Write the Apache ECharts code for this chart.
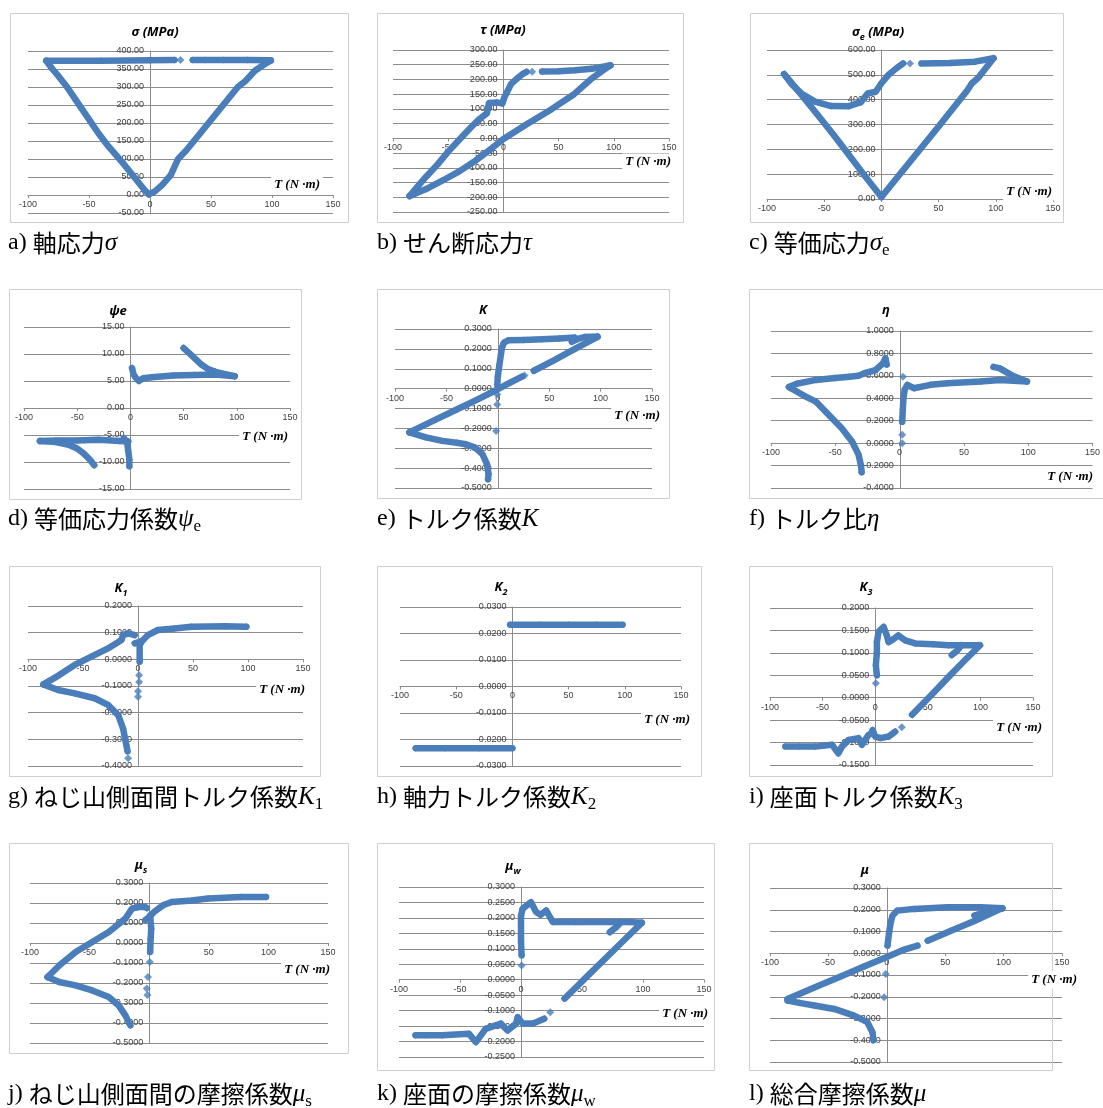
<!DOCTYPE html>
<html>
<head>
<meta charset="utf-8">
<script src="https://cdn.jsdelivr.net/npm/echarts@6.0.0/dist/echarts.min.js"></script>
<style>
html, body { margin: 0; padding: 0; background: #fff; }
#main { width: 1103px; height: 1108px; }
</style>
</head>
<body>
<div id="main"></div>
<script>
// shared x ticks (T, N·m)
var xTicks = [-100, -50, 0, 50, 100, 150];

// a) sigma
var sigmaRise = [[-1,2],[4,10],[10,28],[17,55],[23,100],[30,125],[36,150],[42,175],[48,200],[54,225],[60,250],[66,275],[72,300],[78,316],[86,345],[95,366],[99,373]];
var sigmaTopRight = [[99,374],[80,375],[60,375],[45,375],[35,375]];
var sigmaTopLeft = [[20,375],[0,374],[-40,373],[-85,373]];
var sigmaFall = [[-85,373],[-80,350],[-75,330],[-68,300],[-61,265],[-50,210],[-42,170],[-34,135],[-23,92],[-12,46],[-4,12],[-1,2]];
var sigmaDots = [[25,375]];

// b) tau
var tauRise = [[-85,-196],[-70,-172],[-55,-143],[-40,-112],[-25,-75],[-12,-38],[0,-2],[20,45],[44,100],[64,150],[79,200],[88,225],[97,248]];
var tauReturn = [[-85,-196],[-78,-165],[-70,-130],[-60,-90],[-50,-45],[-40,-5],[-30,35],[-22,65],[-15,85],[-13,120],[-6,122],[-1,118],[1,140],[3,155],[7,185],[12,202],[18,220],[21,226]];
var tauTop = [[35,227],[50,228],[65,231],[80,236],[97,248]];
var tauDots = [[26,226]];

// c) sigma_e
var seRise = [[0,8],[25,150],[50,292],[75,437],[79,465],[85,490],[98,567]];
var seFall = [[-85,503],[-70,420],[-56,340],[-42,260],[-28,175],[-14,90],[0,8]];
var seArc = [[-85,503],[-78,460],[-70,425],[-58,392],[-44,374],[-29,373],[-18,390],[-12,425],[-5,432],[0,466],[6,499],[13,526],[19,546]];
var seTop = [[35,546],[60,548],[82,553],[98,567]];
var seDots = [[25,546]];

// d) psi_e
var psiPosFlat = [[1.5,7.4],[3,6.2],[5,5.6],[8,5.0],[12,5.5],[20,5.7],[40,6.0],[60,6.1],[80,6.2],[98,5.9]];
var psiPosCurve = [[50,11.1],[55,10.2],[61,9.1],[67,8.0],[73,7.2],[80,6.7],[88,6.3],[98,5.9]];
var psiNegFlat = [[-85,-6.1],[-70,-6.0],[-50,-6.0],[-30,-5.9],[-10,-6.1],[-2,-6.2]];
var psiNegCurve = [[-85,-6.1],[-70,-6.3],[-58,-6.8],[-50,-7.5],[-44,-8.4],[-38,-9.6],[-34,-10.6]];
var psiNegDrop = [[-6,-5.6],[-3,-6.5],[-2,-8],[-1,-9.5],[-1,-10.8]];

// e) K
var kDiag = [[-86,-0.22],[-60,-0.155],[-40,-0.105],[-20,-0.055],[0,-0.003],[12,0.03],[24,0.062]];
var kDiag2 = [[35,0.09],[55,0.143],[75,0.2],[97,0.26]];
var kTop = [[97,0.262],[85,0.26],[78,0.25],[72,0.235],[75,0.257],[60,0.252],[43,0.248],[25,0.245],[10,0.243],[6,0.232],[4,0.206],[3,0.17],[1.6,0.122],[0,0.06],[-0.5,0.02]];
var kLow = [[-86,-0.22],[-70,-0.245],[-54,-0.263],[-40,-0.272],[-31,-0.28],[-22,-0.297],[-15,-0.33],[-10.5,-0.38],[-9,-0.43],[-9.5,-0.456]];
var kDots = [[26,0.066],[-0.5,-0.03],[-0.6,-0.08],[-1.6,-0.213]];

// f) eta
var etaUp = [[-86,0.5],[-80,0.53],[-65,0.564],[-50,0.58],[-39,0.593],[-32,0.6],[-27,0.625],[-19,0.65],[-13,0.71],[-11,0.757],[-10,0.7]];
var etaDown = [[-86,0.5],[-80,0.46],[-73,0.415],[-65,0.37],[-55,0.25],[-45,0.133],[-37,0.015],[-32,-0.1],[-30,-0.2],[-29.5,-0.26]];
var etaRight = [[2,0.19],[2.5,0.3],[3,0.4],[4,0.48],[6,0.52],[11,0.49],[24,0.52],[37,0.534],[63,0.55],[78,0.564],[99,0.55]];
var etaTail = [[73,0.68],[78,0.667],[88,0.6],[99,0.55]];
var etaDots = [[2.6,0.593],[2,0.075],[2,0.0]];

// g) K1
var k1Up = [[-86,-0.094],[-72,-0.06],[-57.6,-0.021],[-42.4,0.01],[-27.3,0.041],[-15,0.0725],[-13.6,0.091],[-9,0.0975],[-3,0.091]];
var k1Down = [[-86,-0.094],[-72.7,-0.115],[-57.6,-0.1275],[-39.4,-0.146],[-27.3,-0.171],[-18,-0.209],[-13.6,-0.259],[-10.6,-0.321],[-9.5,-0.345]];
var k1Right = [[1.5,-0.009],[1.5,0.054],[4,0.07],[9,0.091],[18,0.11],[33,0.116],[48.5,0.1225],[79,0.124],[98.5,0.1225]];
var k1Hook = [[-3,0.06],[1.5,0.066]];
var k1Dots = [[-9,-0.371],[1,-0.06],[1,-0.085],[0,-0.12],[0,-0.14]];

// h) K2
var k2Pos = [[-2,0.0233],[25,0.0233],[50,0.0233],[75,0.0233],[98,0.0233]];
var k2Neg = [[-86,-0.0233],[-60,-0.0233],[-30,-0.0233],[0,-0.0233]];

// i) K3
var k3Top = [[1.6,0.05],[0.6,0.0725],[1.6,0.1],[1.6,0.124],[3.2,0.147],[8,0.158],[11,0.139],[12.7,0.124],[17,0.13],[22,0.139],[28.5,0.128],[38,0.121],[55,0.119],[69.6,0.117],[82,0.117],[98,0.117]];
var k3Tail = [[72.8,0.095],[78,0.105],[82,0.117]];
var k3Diag = [[99.7,0.117],[85,0.083],[70,0.047],[55,0.01],[45,-0.014],[35,-0.038]];
var k3Low = [[19,-0.0755],[12.7,-0.0866],[5,-0.09],[0,-0.0866],[-2.5,-0.072],[-3.2,-0.079],[-6.3,-0.083],[-12.7,-0.105],[-15.8,-0.09],[-25.3,-0.094],[-31.6,-0.109],[-35,-0.124],[-41,-0.105],[-57,-0.109],[-72.8,-0.109],[-85.4,-0.109]];
var k3Dots = [[0.6,0.032],[25.3,-0.066]];

// j) mu_s
var musUp = [[-85.3,-0.17],[-75,-0.11],[-61.7,-0.045],[-47.8,0.005],[-33.9,0.055],[-20,0.122],[-14.4,0.172],[-8.9,0.18],[-3.3,0.18],[-2,0.175]];
var musDown = [[-85.3,-0.17],[-75.6,-0.195],[-61.7,-0.212],[-47.8,-0.237],[-33.9,-0.27],[-25.6,-0.312],[-20,-0.362],[-15.8,-0.412]];
var musRight = [[-3.3,0.115],[0,0.13],[4,0.155],[7.8,0.172],[12,0.19],[18.9,0.205],[35.6,0.213],[49.4,0.222],[77,0.23],[98,0.23]];
var musVert = [[0.8,0.138],[1.7,0.072],[1.2,0.02],[0.8,-0.045]];
var musDots = [[0.5,-0.095],[-1,-0.17],[-2,-0.228],[-1.5,-0.26]];

// k) mu_w
var muwTop = [[0.5,0.079],[0,0.122],[0,0.208],[1.4,0.23],[8.2,0.251],[12.4,0.219],[16,0.21],[20.6,0.224],[26,0.187],[45,0.187],[72.8,0.187],[89,0.187],[99,0.184]];
var muwTail = [[72.8,0.154],[78,0.17],[82,0.187]];
var muwDiag = [[99,0.184],[85,0.13],[70,0.072],[55,0.014],[45,-0.025],[35.7,-0.061]];
var muwLow = [[19,-0.126],[9.6,-0.142],[1.4,-0.142],[-2.7,-0.121],[-4,-0.142],[-11,-0.164],[-16.5,-0.142],[-29,-0.159],[-37,-0.202],[-42.6,-0.175],[-64.6,-0.18],[-78,-0.18],[-86.5,-0.18]];
var muwDots = [[0.5,0.046],[24,-0.105]];

// l) mu
var muDiag = [[-85,-0.21],[-60,-0.153],[-40,-0.108],[-20,-0.062],[0,-0.017],[15,0.017],[26.3,0.035]];
var muDiag2 = [[35,0.058],[55,0.103],[75,0.148],[98,0.205]];
var muTop = [[0.6,0.035],[2,0.097],[3.4,0.143],[4.9,0.173],[9,0.196],[23.4,0.204],[52,0.211],[80.6,0.211],[99,0.207]];
var muTail = [[75,0.173],[85,0.19],[99,0.207]];
var muLow = [[-85,-0.218],[-75,-0.228],[-62,-0.24],[-45,-0.256],[-28,-0.287],[-16.6,-0.317],[-12.3,-0.363],[-11.4,-0.4]];
var muDots = [[-0.9,-0.095],[-2.3,-0.202]];

var BLUE = '#4a7ebb';

var panels = [
  { box: [10, 13, 338, 209], grid: [28, 51, 305, 162], y: [-50, 400, 50], dec: 2,
    title: '{g|σ (MPa)}', titleAt: [155, 32], tAt: [323, 185],
    caption: '{n|a) }{j|軸応力}{v|σ}', capAt: [8, 243],
    bands: [sigmaRise, sigmaTopRight, sigmaTopLeft, sigmaFall], dots: sigmaDots },
  { box: [377, 13, 306, 209], grid: [393, 50, 276, 162], y: [-250, 300, 50], dec: 2,
    title: '{g|τ (MPa)}', titleAt: [503, 30], tAt: [674, 162],
    caption: '{n|b) }{j|せん断応力}{v|τ}', capAt: [377, 243],
    bands: [tauRise, tauReturn, tauTop], dots: tauDots },
  { box: [750, 13, 313, 209], grid: [767, 50, 286, 149], y: [0, 600, 100], dec: 2,
    title: '{g|σ}{s|e}{g| (MPa)}', titleAt: [878, 32], tAt: [1055, 192],
    caption: '{n|c) }{j|等価応力}{v|σ}{s|e}', capAt: [749, 243],
    bands: [seRise, seFall, seArc, seTop], dots: seDots },
  { box: [9, 289, 292, 210], grid: [24, 327, 266, 162], y: [-15, 15, 5], dec: 2,
    title: '{g|ψe}', titleAt: [118, 311], tAt: [291, 437],
    caption: '{n|d) }{j|等価応力係数}{v|ψ}{s|e}', capAt: [8, 519],
    bands: [psiPosFlat, psiPosCurve, psiNegFlat, psiNegCurve, psiNegDrop], dots: [] },
  { box: [377, 289, 292, 209], grid: [395, 329, 257, 159], y: [-0.5, 0.3, 0.1], dec: 4,
    title: '{g|K}', titleAt: [483, 310], tAt: [663, 416],
    caption: '{n|e) }{j|トルク係数}{v|K}', capAt: [377, 519],
    bands: [kDiag, kDiag2, kTop, kLow], dots: kDots },
  { box: [749, 289, 370, 209], grid: [771, 331, 322, 157], y: [-0.4, 1.0, 0.2], dec: 4,
    title: '{g|η}', titleAt: [886, 310], tAt: [1096, 477],
    caption: '{n|f) }{j|トルク比}{v|η}', capAt: [749, 519],
    bands: [etaUp, etaDown, etaRight, etaTail], dots: etaDots },
  { box: [9, 566, 311, 210], grid: [28, 606, 275, 160], y: [-0.4, 0.2, 0.1], dec: 4,
    title: '{g|K}{s|1}', titleAt: [121, 588], tAt: [308, 690],
    caption: '{n|g) }{j|ねじ山側面間トルク係数}{v|K}{s|1}', capAt: [8, 797],
    bands: [k1Up, k1Down, k1Right, k1Hook], dots: k1Dots },
  { box: [377, 566, 324, 210], grid: [400, 607, 281, 159], y: [-0.03, 0.03, 0.01], dec: 4,
    title: '{g|K}{s|2}', titleAt: [501, 587], tAt: [693, 720],
    caption: '{n|h) }{j|軸力トルク係数}{v|K}{s|2}', capAt: [377, 797],
    bands: [k2Pos, k2Neg], dots: [] },
  { box: [749, 566, 303, 210], grid: [770, 608, 263, 157], y: [-0.15, 0.2, 0.05], dec: 4,
    title: '{g|K}{s|3}', titleAt: [866, 587], tAt: [1045, 728],
    caption: '{n|i) }{j|座面トルク係数}{v|K}{s|3}', capAt: [749, 797],
    bands: [k3Top, k3Tail, k3Diag, k3Low], dots: k3Dots },
  { box: [9, 843, 339, 210], grid: [30, 883, 298, 160], y: [-0.5, 0.3, 0.1], dec: 4,
    title: '{g|μ}{s|s}', titleAt: [141, 865], tAt: [333, 970],
    caption: '{n|j) }{j|ねじ山側面間の摩擦係数}{v|μ}{s|s}', capAt: [8, 1094],
    bands: [musUp, musDown, musRight, musVert], dots: musDots },
  { box: [377, 843, 337, 227], grid: [399, 887, 305, 170], y: [-0.25, 0.3, 0.05], dec: 4,
    title: '{g|μ}{s|w}', titleAt: [513, 866], tAt: [711, 1014],
    caption: '{n|k) }{j|座面の摩擦係数}{v|μ}{s|w}', capAt: [377, 1094],
    bands: [muwTop, muwTail, muwDiag, muwLow], dots: muwDots },
  { box: [749, 843, 303, 227], grid: [770, 888, 292, 174], y: [-0.5, 0.3, 0.1], dec: 4,
    title: '{g|μ}', titleAt: [865, 870], tAt: [1080, 980],
    caption: '{n|l) }{j|総合摩擦係数}{v|μ}', capAt: [749, 1094],
    bands: [muDiag, muDiag2, muTop, muTail, muLow], dots: muDots }
];

var titleRich = {
  g: { fontFamily: 'Noto Sans', fontStyle: 'italic', fontWeight: 'bold', fontSize: 13, lineHeight: 20, fill: '#000' },
  s: { fontFamily: 'Noto Sans', fontStyle: 'italic', fontWeight: 'bold', fontSize: 9, lineHeight: 12, verticalAlign: 'bottom', fill: '#000' }
};
var capRich = {
  n: { fontFamily: 'Liberation Serif', fontSize: 24, lineHeight: 32, fill: '#000' },
  j: { fontFamily: 'Noto Sans CJK JP', fontSize: 24, lineHeight: 32, fill: '#000' },
  v: { fontFamily: 'Liberation Serif', fontStyle: 'italic', fontSize: 25, lineHeight: 32, fill: '#000' },
  s: { fontFamily: 'Liberation Serif', fontSize: 17, lineHeight: 19, verticalAlign: 'bottom', fill: '#000' }
};

var grids = [], xAxes = [], yAxes = [], series = [], graphics = [];
var axisGray = '#8c8c8c';
var xMin = xTicks[0], xMax = xTicks[xTicks.length - 1];

panels.forEach(function (p, i) {
  // axes cross at zero, as in the spreadsheet charts
  var yShift = p.grid[2] * (0 - xMin) / (xMax - xMin);
  var xShift = p.grid[3] * (0 - p.y[0]) / (p.y[1] - p.y[0]);
  grids.push({ left: p.grid[0], top: p.grid[1], width: p.grid[2], height: p.grid[3] });
  xAxes.push({
    gridIndex: i, type: 'value', min: xMin, max: xMax, interval: 50,
    position: 'bottom', offset: -xShift,
    axisLine: { onZero: false, lineStyle: { color: axisGray } },
    axisTick: { show: true, length: 3, lineStyle: { color: axisGray } },
    axisLabel: { fontSize: 9, color: '#404040', fontFamily: 'Liberation Sans', margin: 5 },
    splitLine: { show: false }
  });
  yAxes.push({
    gridIndex: i, type: 'value', min: p.y[0], max: p.y[1], interval: p.y[2],
    position: 'left', offset: -yShift,
    axisLine: { show: true, onZero: false, lineStyle: { color: axisGray } },
    axisTick: { show: true, length: 3, lineStyle: { color: axisGray } },
    axisLabel: { fontSize: 9, color: '#404040', fontFamily: 'Liberation Sans', margin: 6,
      formatter: (function (d) { return function (v) { return v.toFixed(d); }; })(p.dec) },
    splitLine: { show: true, lineStyle: { color: axisGray, width: 1 } }
  });
  p.bands.forEach(function (arr) {
    series.push({
      type: 'line', xAxisIndex: i, yAxisIndex: i, data: arr,
      symbol: 'diamond', symbolSize: 7, showSymbol: true, showAllSymbol: true,
      lineStyle: { color: BLUE, width: 6.5, cap: 'round', join: 'round' },
      itemStyle: { color: BLUE }, animation: false, silent: true, z: 3
    });
  });
  if (p.dots.length) {
    series.push({
      type: 'scatter', xAxisIndex: i, yAxisIndex: i, data: p.dots,
      symbol: 'diamond', symbolSize: 8, itemStyle: { color: BLUE }, animation: false, silent: true, z: 3
    });
  }
  graphics.push({
    type: 'rect', z: 1, silent: true,
    shape: { x: p.box[0] + 0.5, y: p.box[1] + 0.5, width: p.box[2], height: p.box[3] },
    style: { fill: 'none', stroke: '#cfcfcf', lineWidth: 1 }
  });
  graphics.push({
    type: 'text', z: 50, silent: true, x: p.titleAt[0], y: p.titleAt[1],
    style: { text: p.title, rich: titleRich, align: 'center', verticalAlign: 'middle' }
  });
  graphics.push({
    type: 'text', z: 50, silent: true, x: p.tAt[0], y: p.tAt[1],
    style: { text: 'T (N ·m)', font: 'italic bold 13px "Liberation Serif"', fill: '#000',
      align: 'right', verticalAlign: 'middle', backgroundColor: '#fff', padding: [2, 3, 2, 3] }
  });
  graphics.push({
    type: 'text', z: 50, silent: true, x: p.capAt[0], y: p.capAt[1],
    style: { text: p.caption, rich: capRich, align: 'left', verticalAlign: 'middle' }
  });
});

var chart = echarts.init(document.getElementById('main'));
chart.setOption({
  backgroundColor: '#fff',
  animation: false,
  grid: grids,
  xAxis: xAxes,
  yAxis: yAxes,
  series: series,
  graphic: graphics
});
</script>
</body>
</html>
